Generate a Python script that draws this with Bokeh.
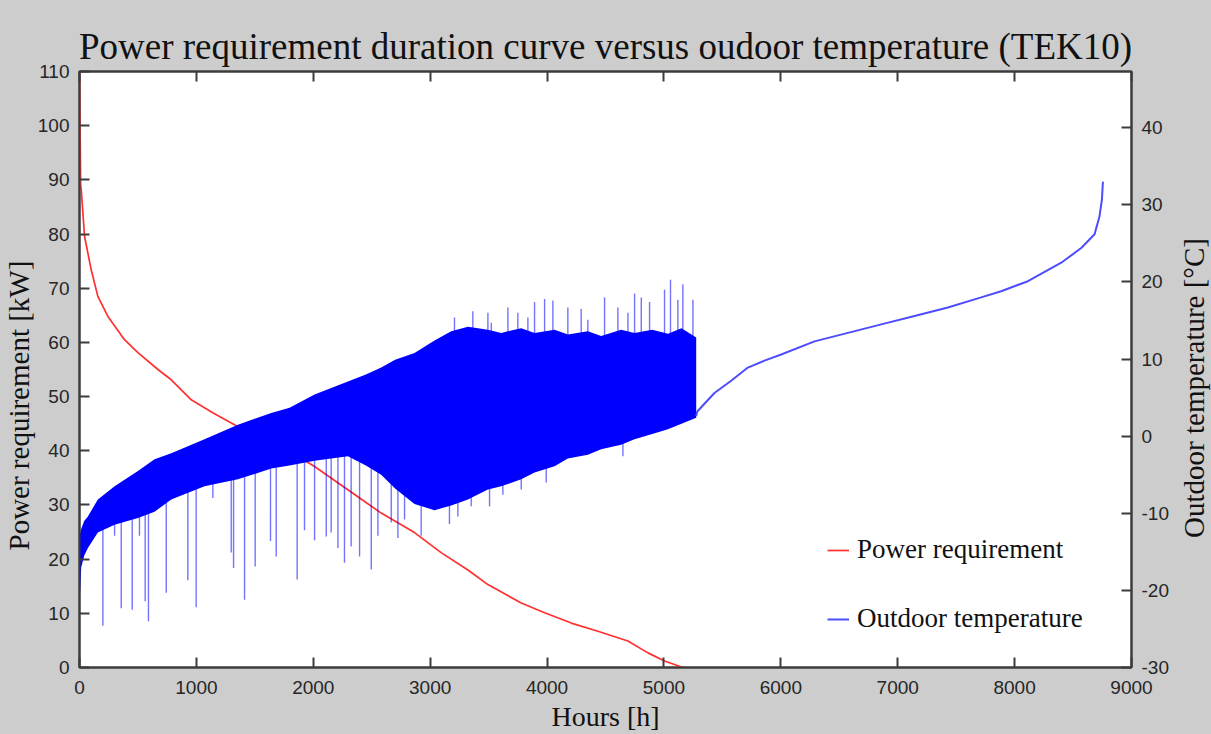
import math
from bokeh.plotting import figure
from bokeh.layouts import row
from bokeh.models import (Range1d, LinearAxis, FixedTicker, Legend, LegendItem,
                          CustomJSTickFormatter, Label, Title)
from bokeh.embed import file_html
from bokeh.resources import INLINE

# ---------------- data ----------------
# Power requirement duration curve [kW]
power_hours = [0, 10, 15, 43, 100, 157, 243, 385, 500, 671, 785, 956, 1140, 1326,
               1550, 1790, 2011, 2296, 2581, 2866, 3094, 3323, 3494, 3779, 3979,
               4207, 4435, 4692, 4863, 5005, 5150, 5180]
power_kw = [110, 89, 88.2, 79.6, 73.4, 68.5, 64.8, 60.5, 58.1, 55.0, 53.1, 49.4,
            47.0, 44.8, 42.3, 40.0, 37.1, 32.8, 28.5, 24.9, 21.2, 18.0, 15.3,
            11.9, 10.1, 8.2, 6.7, 4.9, 2.7, 1.2, 0.1, 0]

# Outdoor temperature: dense (noisy) band envelope [degC]
band_hours = [0, 15, 40, 72, 157, 300, 500, 642, 785, 1069, 1355, 1640, 1797,
              2011, 2296, 2450, 2581, 2700, 2866, 3037, 3180, 3323, 3494, 3608,
              3779, 3893, 4064, 4178, 4349, 4463, 4634, 4748, 4900, 5034, 5150, 5276]
band_upper = [-13.0, -12.0, -11.0, -10.4, -8.2, -6.5, -4.5, -3.0, -2.2, -0.4, 1.5,
              3.0, 3.7, 5.4, 7.1, 8.0, 8.9, 9.9, 10.8, 12.4, 13.6, 14.2, 13.8,
              13.4, 14.0, 13.4, 13.8, 13.2, 13.6, 13.0, 13.8, 13.4, 13.8, 13.3,
              14.0, 12.8]
band_lower = [-22.0, -17.0, -15.5, -14.5, -12.5, -11.5, -10.6, -9.8, -8.2, -6.5,
              -5.6, -4.2, -3.8, -3.2, -2.6, -3.8, -5.0, -6.8, -8.8, -9.6, -9.0,
              -8.2, -6.9, -6.5, -5.6, -4.7, -3.9, -2.9, -2.4, -1.7, -1.1, -0.4,
              0.3, 0.9, 1.6, 2.4]

# Downward temperature spikes
down_hours = [200, 300, 357, 451, 513, 562, 590, 742, 927, 998, 1141, 1298, 1318,
              1412, 1503, 1634, 1683, 1862, 1925, 2011, 2111, 2153, 2211, 2267,
              2324, 2396, 2496, 2553, 2667, 2724, 2781, 2923, 3165, 3237, 3351,
              3508, 3622, 3779, 3993, 4649]
down_low = [-24.6, -12.9, -22.3, -22.5, -12.9, -21.4, -24.0, -20.3, -18.7, -22.2,
            -8.0, -15.1, -17.1, -21.2, -16.9, -13.6, -15.6, -18.6, -12.2, -13.5,
            -13.0, -12.5, -14.5, -16.4, -14.3, -15.6, -17.3, -12.9, -11.2, -13.2,
            -10.8, -12.9, -11.4, -10.4, -9.1, -9.1, -7.6, -6.9, -6.0, -2.6]
down_base = [-10, -9, -9, -8, -8, -8, -8, -6, -5, -5, -4, -3, -3, -3, -2, -1, -1,
             0, 0, 1, 1, 2, 2, 2, 3, 3, 3, 3, 3, 3, 3, 3, 3, 3, 3, 4, 4, 5, 5, 6]

# Upward temperature spikes
up_hours = [3208, 3365, 3494, 3523, 3665, 3750, 3836, 3893, 3979, 4050, 4178,
            4292, 4349, 4492, 4606, 4692, 4749, 4806, 4877, 5005, 5056, 5119,
            5162, 5248]
up_high = [15.4, 16.2, 16.0, 14.7, 16.7, 16.0, 15.4, 17.4, 17.8, 17.6, 16.7, 16.5,
           15.1, 18.0, 16.7, 16.0, 18.5, 18.0, 17.4, 19.0, 20.3, 17.7, 19.7, 17.7]
up_base = [8, 8, 8, 8, 8, 8, 8, 8, 8, 8, 8, 8, 8, 8, 8, 8, 8, 8, 8, 8, 8, 8, 8, 8]

# Outdoor temperature: smooth tail
tail_hours = [5276, 5285, 5432, 5575, 5718, 5860, 6003, 6288, 6574, 6859, 7144,
              7429, 7714, 7885, 8114, 8399, 8570, 8684, 8726, 8747, 8755, 8760]
tail_temp = [2.6, 3.2, 5.6, 7.2, 8.9, 9.8, 10.6, 12.3, 13.4, 14.5, 15.6, 16.7,
             18.0, 18.8, 20.1, 22.5, 24.4, 26.2, 28.5, 30.7, 32.9, 33.0]

x_ticks = [0, 1000, 2000, 3000, 4000, 5000, 6000, 7000, 8000, 9000]
power_ticks = [0, 10, 20, 30, 40, 50, 60, 70, 80, 90, 100, 110]
temp_ticks = [-30, -20, -10, 0, 10, 20, 30, 40]

# ---------------- figure ----------------
GRAY = "#cdcdcd"
AX = "#3c3c3c"
SERIF = "Liberation Serif"
SANS = "Liberation Sans"
H = 732

p = figure(frame_width=1052, frame_height=596, output_backend="svg",
           toolbar_location=None,
           x_range=Range1d(0, 9000), y_range=Range1d(0, 110),
           min_border_left=78, min_border_right=38, min_border_top=71,
           min_border_bottom=65, border_fill_color=GRAY,
           background_fill_color="white",
           title="Power requirement duration curve versus oudoor temperature (TEK10)")
p.extra_y_ranges = {"temp": Range1d(-30, 47.3)}
p.xgrid.visible = False
p.ygrid.visible = False
p.outline_line_color = AX
p.outline_line_width = 2

p.title.text_font = SERIF
p.title.text_font_size = "37px"
p.title.text_font_style = "normal"
p.title.text_color = "#111111"
p.title.align = "center"


def style_axis(ax, ticks):
    ax.ticker = FixedTicker(ticks=ticks)
    ax.formatter = CustomJSTickFormatter(code="return tick.toString()")
    ax.major_tick_in = 10
    ax.major_tick_out = 0
    ax.minor_tick_line_color = None
    ax.major_tick_line_color = AX
    ax.major_tick_line_width = 2
    ax.axis_line_color = AX
    ax.axis_line_width = 2
    ax.major_label_text_font = SANS
    ax.major_label_text_font_size = "19px"
    ax.major_label_text_color = "#262626"
    ax.axis_label_text_font = SERIF
    ax.axis_label_text_font_size = "28px"
    ax.axis_label_text_font_style = "normal"
    ax.axis_label_text_color = "#111111"


xa = p.xaxis[0]
style_axis(xa, x_ticks)
xa.axis_label = "Hours [h]"
xa.major_label_standoff = 13
xa.axis_label_standoff = 4

ya = p.yaxis[0]
style_axis(ya, power_ticks)
ya.major_label_standoff = 10

ra = LinearAxis(y_range_name="temp")
style_axis(ra, temp_ticks)
ra.major_label_standoff = 10
p.add_layout(ra, "right")

ta = LinearAxis()
style_axis(ta, x_ticks)
ta.formatter = CustomJSTickFormatter(code="return ''")
ta.major_label_standoff = 0
p.add_layout(ta, "above")

# left axis title (reads bottom-to-top, starting a bit above the frame bottom)
p.add_layout(Title(text="Power requirement [kW]", align="left", offset=117,
                   standoff=0, text_font=SERIF, text_font_size="29px",
                   text_font_style="normal", text_color="#111111"), "left")

# ---------------- glyphs ----------------
red = p.line(power_hours, power_kw, line_color="#ff3030", line_width=1.7)

p.segment(x0=down_hours, y0=down_base, x1=down_hours, y1=down_low,
          y_range_name="temp", line_color="#0000ff", line_alpha=0.55, line_width=1.4)
p.segment(x0=up_hours, y0=up_base, x1=up_hours, y1=up_high,
          y_range_name="temp", line_color="#0000ff", line_alpha=0.55, line_width=1.4)
p.varea(x=band_hours, y1=band_lower, y2=band_upper, y_range_name="temp",
        fill_color="#0000ff")
blue = p.line(tail_hours, tail_temp, y_range_name="temp", line_color="#4d4dff",
              line_width=2)

legend = Legend(items=[LegendItem(label="Power requirement", renderers=[red]),
                       LegendItem(label="Outdoor temperature", renderers=[blue])],
                location=(748, 33), padding=0, margin=0, spacing=38,
                glyph_width=22, glyph_height=30, label_height=30, label_standoff=8,
                label_text_font=SERIF, label_text_font_size="27px",
                label_text_color="#111111", background_fill_color="white",
                background_fill_alpha=1.0, border_line_color=None)
p.add_layout(legend, "center")

# ---------------- right strip carrying the right axis title ----------------
SW = 40
rs = figure(width=SW, height=H, output_backend="svg", toolbar_location=None,
            x_range=Range1d(0, SW), y_range=Range1d(0, H),
            x_axis_type=None, y_axis_type=None,
            min_border=0, border_fill_color=GRAY, background_fill_color=GRAY,
            outline_line_color=None)
rs.xgrid.visible = False
rs.ygrid.visible = False
rs.add_layout(Label(text="Outdoor temperature [°C]", x=22, y=H - 390,
                    angle=math.pi / 2, text_align="center", text_baseline="middle",
                    text_font=SERIF, text_font_size="29px", text_color="#111111"))

layout = row(p, rs, spacing=0, styles={"background-color": GRAY})
open("out.html", "w").write(file_html(layout, INLINE))
